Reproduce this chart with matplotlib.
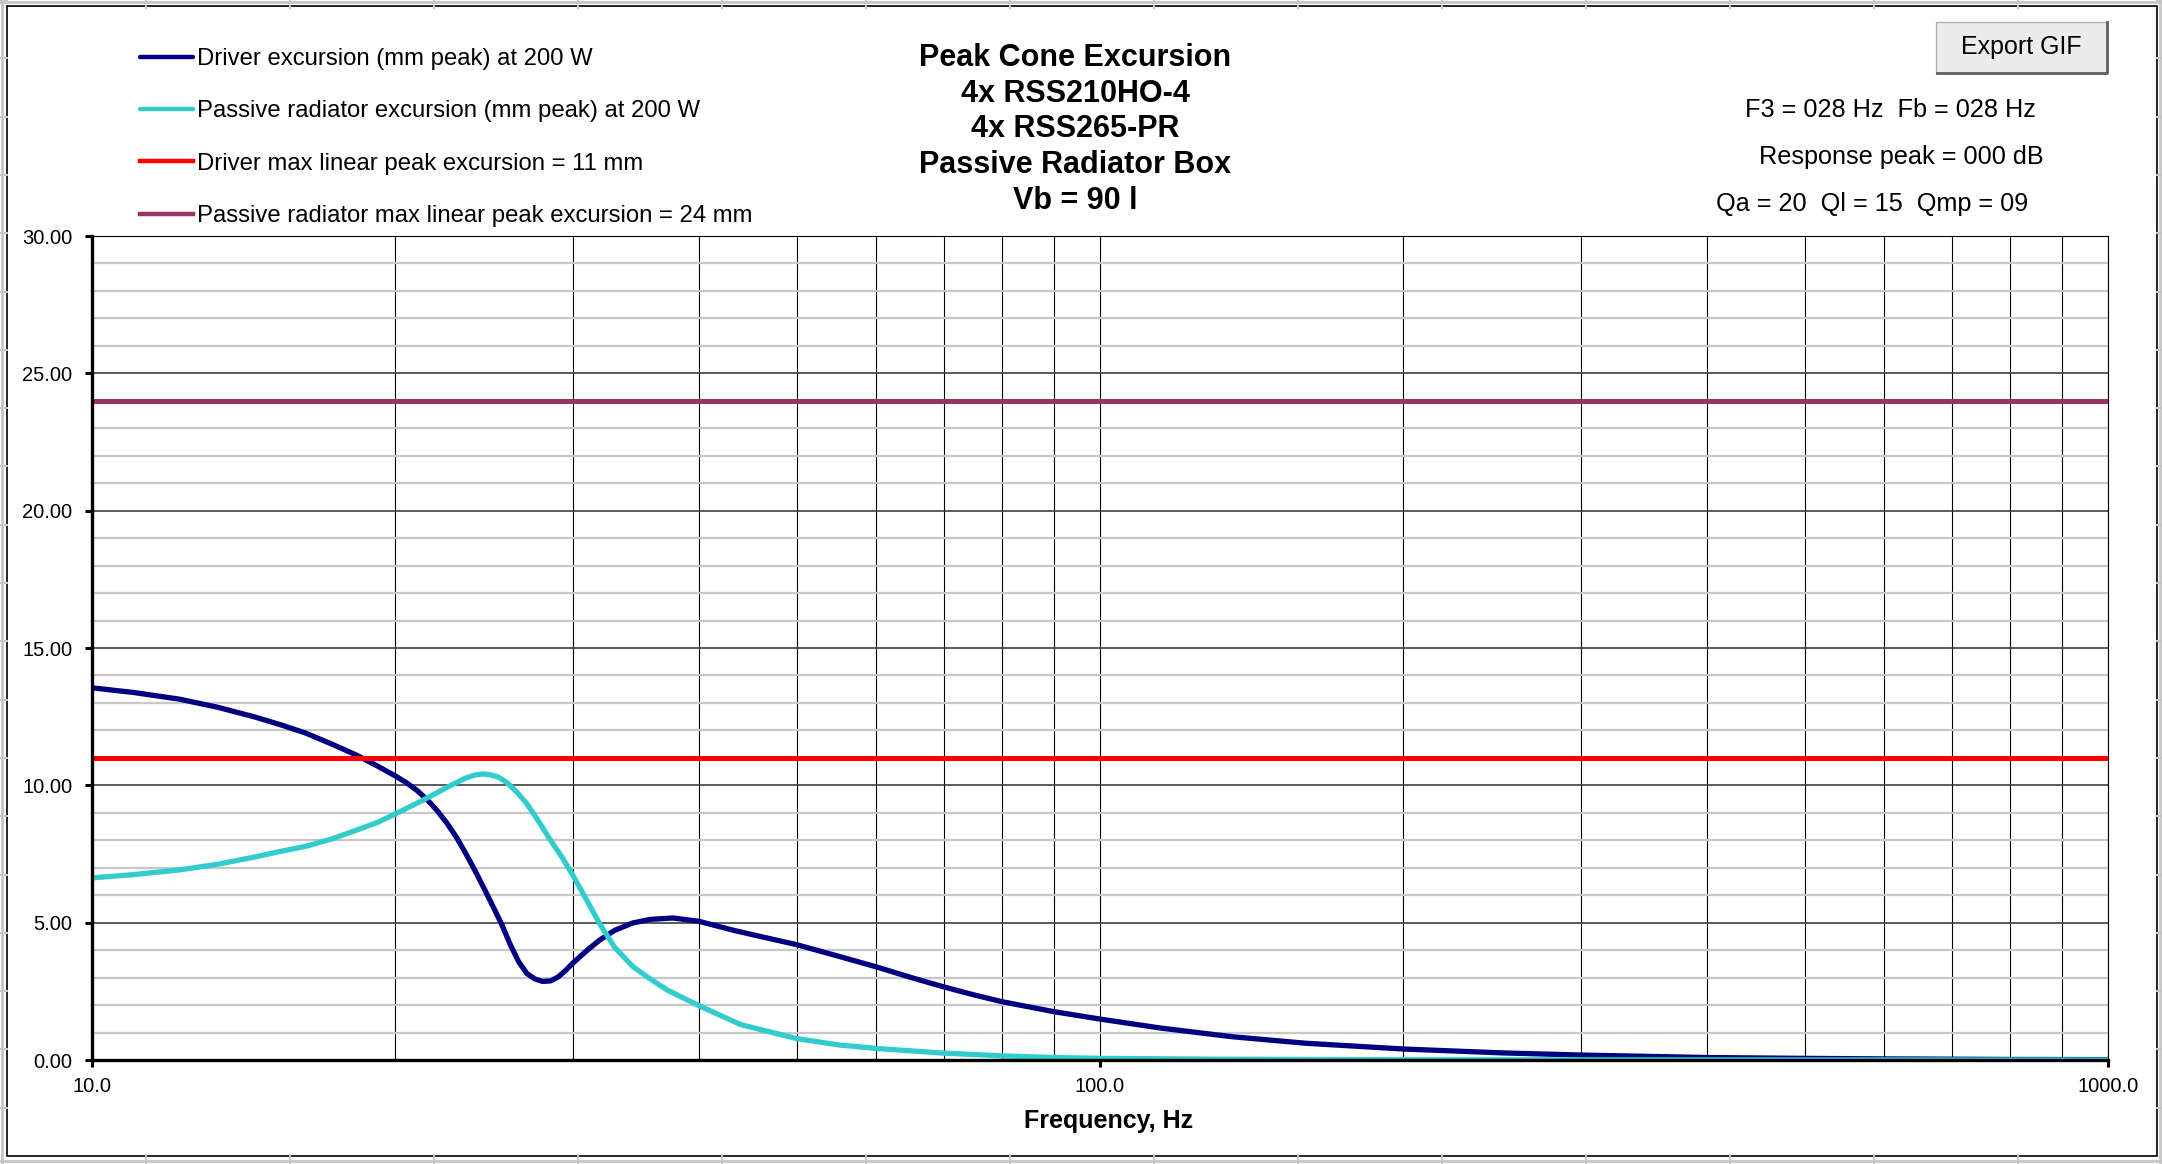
import numpy as np
import matplotlib
matplotlib.use("Agg")
import matplotlib.pyplot as plt
from matplotlib.patches import Rectangle
from matplotlib.ticker import FixedLocator, LogLocator, NullFormatter

plt.rcParams['font.family'] = ['Liberation Sans', 'DejaVu Sans']

# Daten
freq_drv = [10, 11, 12.2, 13.3, 14.5, 15.4, 16.3, 17.3, 18.3, 19.2, 20.0, 20.5, 21.0, 21.5,
            22.0, 22.5, 23.0, 23.5, 24.0, 24.5, 25.0, 25.5, 26.0, 26.5, 27.0, 27.5, 28.0,
            28.5, 29.0, 29.5, 30.0, 31.0, 31.9, 33.0, 34.4, 35.8, 37.7, 40, 43.2, 46, 50,
            55, 60, 65, 70, 75, 80, 90, 100, 115, 135, 160, 200, 250, 300, 400, 500, 600,
            800, 1000]
exc_drv = [13.55, 13.38, 13.14, 12.85, 12.49, 12.2, 11.9, 11.5, 11.1, 10.7, 10.34, 10.1, 9.82, 9.48,
           9.08, 8.62, 8.1, 7.5, 6.88, 6.23, 5.58, 4.93, 4.2, 3.58, 3.15, 2.95, 2.86,
           2.88, 3.02, 3.26, 3.53, 4.0, 4.37, 4.72, 4.99, 5.12, 5.17, 5.05, 4.73, 4.5, 4.2,
           3.78, 3.39, 3.0, 2.66, 2.37, 2.12, 1.76, 1.49, 1.16, 0.85, 0.61, 0.40, 0.26, 0.18, 0.09, 0.06, 0.04,
           0.02, 0.015]

freq_pr = [10, 11, 12.2, 13.3, 14.5, 15.4, 16.3, 17.3, 18.3, 19.2, 20.0, 21.3, 22.7, 23.5,
           24.0, 24.4, 24.8, 25.3, 25.8, 26.4, 27.0, 27.5, 28.0, 28.5, 29.3, 30.0, 31.0,
           31.9, 33.0, 34.4, 35.8, 37.2, 40, 44, 50, 55, 60, 70, 80, 90, 100, 130, 200,
           300, 1000]
exc_pr = [6.63, 6.75, 6.92, 7.12, 7.39, 7.6, 7.78, 8.05, 8.37, 8.65, 8.96, 9.46, 10.0, 10.27,
          10.38, 10.41, 10.39, 10.3, 10.1, 9.75, 9.33, 8.9, 8.45, 8.0, 7.35, 6.72, 5.78,
          4.95, 4.1, 3.4, 2.95, 2.55, 1.98, 1.29, 0.78, 0.55, 0.42, 0.25, 0.15, 0.09, 0.06, 0.03, 0.01,
          0.005, 0.0]

xmax_drv = 11
xmax_pr = 24

labels = ['Driver excursion (mm peak) at 200 W',
          'Passive radiator excursion (mm peak) at 200 W',
          'Driver max linear peak excursion = 11 mm',
          'Passive radiator max linear peak excursion = 24 mm']
title_lines = ['Peak Cone Excursion', '4x RSS210HO-4', '4x RSS265-PR',
               'Passive Radiator Box', 'Vb = 90 l']
info_lines = ['F3 = 028 Hz  Fb = 028 Hz', 'Response peak = 000 dB', 'Qa = 20  Ql = 15  Qmp = 09']

W, H = 2162, 1164
fig = plt.figure(figsize=(W / 100, H / 100), dpi=100)

# Hintergrund: Tabellenraster + Rahmen (Pixelkoordinaten)
bg = fig.add_axes([0, 0, 1, 1])
bg.set_xlim(0, W)
bg.set_ylim(H, 0)
bg.axis('off')
gcol = '#c6c6c6'
for x in range(2, W, 144):
    bg.plot([x, x], [0, 8], color=gcol, lw=1.5)
    bg.plot([x, x], [1155, H], color=gcol, lw=1.5)
for y in np.arange(0, H, 58.3):
    bg.plot([0, 7], [y, y], color=gcol, lw=1.5)
    bg.plot([2157, W], [y, y], color=gcol, lw=1.5)
bg.plot([0, W], [2, 2], color=gcol, lw=2)
bg.plot([0, W], [1161, 1161], color=gcol, lw=2)
bg.plot([2, 2], [0, H], color=gcol, lw=2)
bg.plot([2160, 2160], [0, H], color=gcol, lw=2)
bg.add_patch(Rectangle((7, 6), 2150, 1150, facecolor='white', edgecolor='black', lw=1.2))

# Button "Export GIF"
bg.add_patch(Rectangle((1936, 22), 171, 51, facecolor='#ececec', edgecolor='#b0b0b0', lw=1))
bg.plot([1937, 2107, 2107], [73, 73, 22], color='#606060', lw=2)
bg.text(2021, 47, 'Export GIF', fontsize=18, ha='center', va='center')

# Titel
for i, t in enumerate(title_lines):
    bg.text(1075, 58 + i * 35.7, t, fontsize=22, fontweight='bold', ha='center', va='center')

# Infotext rechts oben
for t, x, y in zip(info_lines, [1890, 1901, 1872], [110, 157, 204]):
    bg.text(x, y, t, fontsize=18.2, ha='center', va='center')

# Diagramm
ax = fig.add_axes([92 / W, 1 - 1060 / H, 2016 / W, 824 / H])
ax.set_zorder(2)
ax.set_xscale('log')
ax.set_xlim(10, 1000)
ax.set_ylim(0, 30)

l1, = ax.plot(freq_drv, exc_drv, color='#000080', lw=3.8, zorder=4, solid_capstyle='round', solid_joinstyle='round')
l2, = ax.plot(freq_pr, exc_pr, color='#33CCCC', lw=3.8, zorder=5, solid_capstyle='round', solid_joinstyle='round')
l3 = ax.axhline(xmax_drv, color='#FF0000', lw=3.6, zorder=6)
l4 = ax.axhline(xmax_pr, color='#993366', lw=3.6, zorder=6)

ax.xaxis.set_major_locator(FixedLocator([10, 100, 1000]))
ax.set_xticklabels(['10.0', '100.0', '1000.0'])
ax.xaxis.set_minor_locator(LogLocator(base=10, subs=np.arange(2, 10)))
ax.xaxis.set_minor_formatter(NullFormatter())
ax.yaxis.set_major_locator(FixedLocator(np.arange(0, 31, 5)))
ax.set_yticklabels(['%.2f' % v for v in np.arange(0, 31, 5)])
ax.yaxis.set_minor_locator(FixedLocator(np.arange(0, 31, 1)))

ax.tick_params(axis='both', which='major', labelsize=14.5, width=2.2, length=5, color='black')
ax.tick_params(axis='y', which='major', pad=9)
ax.tick_params(axis='x', which='major', pad=7)
ax.tick_params(which='minor', length=0)

ax.grid(which='minor', axis='y', color='#c8c8c8', lw=1.6, zorder=0)
ax.grid(which='major', axis='y', color='#404040', lw=1.2, zorder=1)
ax.grid(which='both', axis='x', color='black', lw=0.8, zorder=1)
ax.set_axisbelow(True)

for s in ['left', 'bottom']:
    ax.spines[s].set_linewidth(2.4)
    ax.spines[s].set_zorder(7)
ax.spines['top'].set_linewidth(0.8)
ax.spines['right'].set_linewidth(0.8)

ax.text((1109 - 92) / 2016, (1060 - 1121) / 824, 'Frequency, Hz', transform=ax.transAxes,
        fontsize=18, fontweight='bold', ha='center', va='center')

leg = fig.legend([l1, l2, l3, l4], labels, loc='upper left', bbox_to_anchor=(140 / W, 1 - 48 / H),
                 frameon=False, fontsize=17.2, handlelength=2.2, handletextpad=0.17,
                 labelspacing=1.27, borderpad=0, borderaxespad=0)
for h in leg.legend_handles:
    h.set_linewidth(3.2)

fig.savefig('out.png', dpi=100)
